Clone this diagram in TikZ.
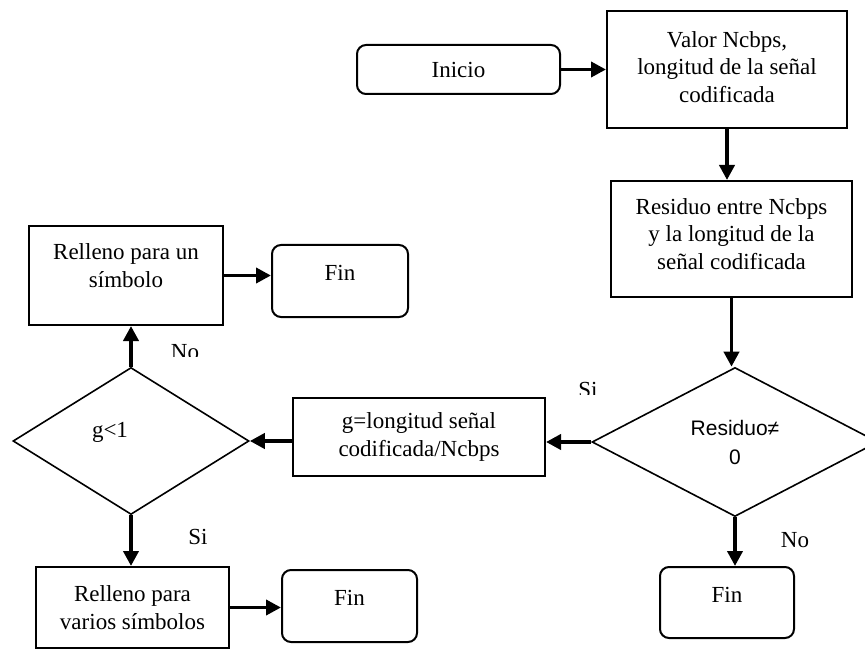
\documentclass[tikz,border=0pt]{standalone}
\usepackage{fontspec}
\setmainfont{Liberation Serif}
\newfontfamily\arialfont{Liberation Sans}
\usetikzlibrary{shapes.geometric,arrows.meta}

\tikzset{
    box/.style={draw, line width=2pt, rectangle, align=center, inner sep=0pt},
    term/.style={draw, line width=2pt, rectangle, rounded corners=9pt, align=center, inner sep=0pt, text depth=16pt},
    decision/.style={draw, line width=1.6pt, diamond, inner sep=0pt},
    flow/.style={line width=3.8pt, -{Triangle[length=15pt,width=15pt]}},
    answer/.style={anchor=base, inner sep=0pt}
}

\begin{document}
\begin{tikzpicture}[x=1pt, y=-1pt, font=\fontsize{23}{27.5}\selectfont]
    \useasboundingbox (0,0) rectangle (865,655);

    % Start and first steps
    \node[term, minimum width=203pt, minimum height=49pt, text depth=0pt] (inicio) at (458.5,69.5) {Inicio};
    \node[box, minimum width=240pt, minimum height=117pt, text depth=5pt] (valor) at (727,69.5) {Valor Ncbps,\\longitud de la señal\\codificada};
    \node[box, minimum width=241pt, minimum height=116pt, text depth=10pt] (residuo) at (731.5,239) {Residuo entre Ncbps\\y la longitud de la\\señal codificada};

    % Decisions
    \node[decision, minimum width=286pt, minimum height=149pt, font=\arialfont\fontsize{21}{29}\selectfont, align=center] (dres) at (735,442) {Residuo≠\\0};
    \node[box, minimum width=252pt, minimum height=78pt] (gbox) at (419,437) {g=longitud señal\\codificada/Ncbps};
    \node[decision, minimum width=236pt, minimum height=147pt,
          label={[xshift=-21pt, yshift=9pt]center:g<1}] (dg) at (131,441) {};

    % Padding boxes and ends
    \node[box, minimum width=194pt, minimum height=99pt, text depth=20pt] (rel1) at (126,275.5) {Relleno para un\\símbolo};
    \node[box, minimum width=193pt, minimum height=81pt] (rel2) at (132.5,607.5) {Relleno para\\varios símbolos};
    \node[term, minimum width=136pt, minimum height=72pt] (fin1) at (340,281) {Fin};
    \node[term, minimum width=135pt, minimum height=72pt] (fin2) at (349.5,606) {Fin};
    \node[term, minimum width=134pt, minimum height=71pt] (fin3) at (727,602.5) {Fin};

    % Arrows
    \draw[flow] (inicio.east) -- (valor.west);
    \draw[flow] (valor.south) -- (valor.south |- residuo.north);
    \draw[flow] (residuo.south) -- (residuo.south |- dres.north);
    \draw[flow] (dres.west) -- (dres.west -| gbox.east);
    \draw[flow] (dg.east -| gbox.west) -- (dg.east);
    \draw[flow] (dg.north) -- (dg.north |- rel1.south);
    \draw[flow] (rel1.east) -- (rel1.east -| fin1.west);
    \draw[flow] (dg.south) -- (dg.south |- rel2.north);
    \draw[flow] (rel2.east) -- (rel2.east -| fin2.west);
    \draw[flow] (dres.south) -- (dres.south |- fin3.north);

    % Yes / no labels
    \begin{scope}
        \clip (150,330) rectangle (220,356);
        \node[answer] (no1) at (185,359) {No};
    \end{scope}
    \begin{scope}
        \clip (560,370) rectangle (620,394);
        \node[answer] (si1) at (588,397) {Si};
    \end{scope}
    \node[answer] (si2) at (198,544) {Si};
    \node[answer] (no2) at (795,547) {No};
\end{tikzpicture}
\end{document}
